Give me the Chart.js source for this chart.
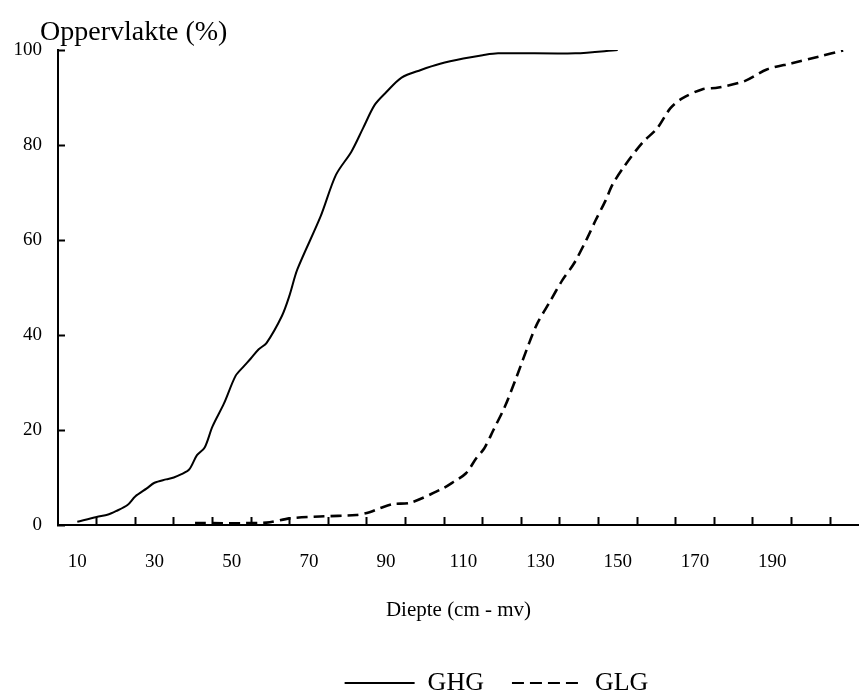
<!DOCTYPE html>
<html>
<head>
<meta charset="utf-8">
<script src="https://cdn.jsdelivr.net/npm/chart.js@4.4.1/dist/chart.umd.min.js"></script>
<style>
  html, body { margin: 0; padding: 0; background: #fff; }
</style>
</head>
<body>
<canvas id="grafiek" width="859" height="694"></canvas>
<script>
// GHG: gemiddeld hoogste grondwaterstand
const ghgDiepte = [10, 15, 18, 20, 23, 25, 28, 30, 33, 35, 37, 39, 41, 43, 45, 48, 51, 53, 55, 57, 59, 63, 65, 67, 73, 77, 81, 84, 87, 90, 94, 99, 104, 110, 115, 119, 139, 150];
const ghgOpp = [0.7, 1.7, 2.2, 2.9, 4.2, 6, 7.7, 8.9, 9.6, 10, 10.7, 11.7, 14.7, 16.3, 20.7, 25.6, 31.4, 33.3, 35.1, 37, 38.3, 44, 48.4, 53.8, 64.9, 73.7, 78.6, 83.5, 88.4, 91.1, 94.2, 95.8, 97.1, 98.2, 98.9, 99.3, 99.3, 100];

// GLG: gemiddeld laagste grondwaterstand
const glgDiepte = [40.5, 59, 65, 72.8, 82.3, 85.7, 88.3, 91.7, 96.3, 104.7, 107.5, 110.7, 113.3, 115.4, 117.8, 120.8, 123.8, 127, 129.2, 132.2, 135.7, 138.7, 142.1, 144.3, 146.9, 148.6, 151.6, 156.3, 160.2, 163.6, 166.7, 171.8, 176.1, 183, 188.6, 195.1, 202, 208.4];
const glgOpp = [0.4, 0.5, 1.4, 1.8, 2.1, 2.7, 3.5, 4.4, 4.7, 7.7, 9.1, 10.9, 14, 16.1, 20, 25, 31.2, 38.2, 42.5, 46.7, 51.6, 55.1, 60.4, 64.2, 68.4, 71.6, 75.4, 80.4, 83.5, 87.7, 89.8, 91.7, 92.1, 93.5, 95.9, 97.2, 98.6, 99.9];

// as-labels en tick-markeringen
const xLabels = [10, 30, 50, 70, 90, 110, 130, 150, 170, 190];
const xMarks = [15, 25, 35, 45, 55, 65, 75, 85, 95, 105, 115, 125, 135, 145, 155, 165, 175, 185, 195, 205];
const yLabels = [0, 20, 40, 60, 80, 100];

function punten(xs, ys) {
    return xs.map((x, i) => ({ x: x, y: ys[i] }));
}

const lettertype = "'Liberation Serif', 'Times New Roman', serif";

// titel en legenda iets verschuiven zoals in het origineel
const verschuif = {
    id: 'verschuif',
    afterLayout(chart) {
        const t = chart.titleBlock;
        t.left += 40; t.right += 40;
        const l = chart.legend;
        l.left += 67; l.right += 67;
        l.top += 12; l.bottom += 12;
    }
};

const ctx = document.getElementById('grafiek').getContext('2d');
new Chart(ctx, {
    type: 'line',
    data: {
        datasets: [
            {
                label: 'GHG',
                data: punten(ghgDiepte, ghgOpp),
                borderColor: '#000',
                backgroundColor: '#000',
                borderWidth: 2,
                pointRadius: 0,
                tension: 0.3
            },
            {
                label: 'GLG',
                data: punten(glgDiepte, glgOpp),
                borderColor: '#000',
                backgroundColor: '#000',
                borderWidth: 2.6,
                borderDash: [11, 6],
                pointRadius: 0,
                tension: 0.3
            }
        ]
    },
    options: {
        responsive: false,
        animation: false,
        layout: { padding: 0 },
        plugins: {
            title: {
                display: true,
                text: 'Oppervlakte (%)',
                align: 'start',
                color: '#000',
                font: { family: lettertype, size: 28, weight: 'normal' },
                padding: { top: 16, bottom: 0.4 }
            },
            legend: {
                position: 'bottom',
                labels: {
                    usePointStyle: true,
                    pointStyle: 'line',
                    pointStyleWidth: 70,
                    boxHeight: 26,
                    padding: 28,
                    color: '#000',
                    font: { family: lettertype, size: 26 },
                    generateLabels(chart) {
                        const items = Chart.defaults.plugins.legend.labels.generateLabels(chart);
                        items.forEach(it => {
                            const ds = chart.data.datasets[it.datasetIndex];
                            it.lineDash = ds.borderDash ? [12, 6] : [];
                            it.lineWidth = 2;
                        });
                        return items;
                    }
                }
            },
            tooltip: { enabled: false }
        },
        scales: {
            x: {
                type: 'linear',
                min: 5,
                max: 212.5,
                afterBuildTicks(scale) {
                    scale.ticks = xMarks.concat(xLabels).sort((a, b) => a - b).map(v => ({ value: v }));
                },
                afterFit(scale) {
                    scale.height = 105;
                    scale.paddingLeft = 0;
                    scale.paddingRight = 0;
                },
                ticks: {
                    autoSkip: false,
                    maxRotation: 0,
                    padding: 34,
                    color: '#000',
                    font: { family: lettertype, size: 19 },
                    callback: (v) => xLabels.includes(v) ? String(v) : ''
                },
                grid: {
                    drawOnChartArea: false,
                    drawTicks: true,
                    tickLength: -8,
                    tickWidth: 2,
                    tickColor: (c) => (c.tick && xMarks.includes(c.tick.value)) ? '#000' : 'rgba(0,0,0,0)'
                },
                border: { display: true, color: '#000', width: 2 },
                title: {
                    display: true,
                    text: 'Diepte (cm - mv)',
                    color: '#000',
                    font: { family: lettertype, size: 21 },
                    padding: { top: 0, bottom: 7.4 }
                }
            },
            y: {
                min: 0,
                max: 100,
                afterBuildTicks(scale) {
                    scale.ticks = yLabels.map(v => ({ value: v }));
                },
                afterFit(scale) { scale.width = 58; },
                ticks: {
                    padding: 23,
                    color: '#000',
                    font: { family: lettertype, size: 19 }
                },
                grid: {
                    drawOnChartArea: false,
                    drawTicks: true,
                    tickLength: -7,
                    tickWidth: 2,
                    tickColor: '#000'
                },
                border: { display: true, color: '#000', width: 2 }
            }
        }
    },
    plugins: [verschuif]
});
</script>
</body>
</html>
